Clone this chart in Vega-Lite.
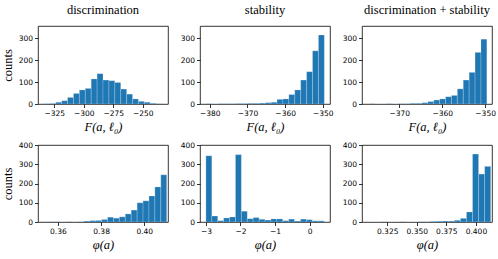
{
  "$schema": "https://vega.github.io/schema/vega-lite/v6.json",
  "padding": {"left": 0, "top": 3, "right": 2, "bottom": 2},
  "background": "white",
  "datasets": {
    "h": [
      {"p":1,"a":-333.7,"b":-328.7,"c":1},{"p":1,"a":-328.7,"b":-323.7,"c":2},{"p":1,"a":-323.7,"b":-318.7,"c":8},{"p":1,"a":-318.7,"b":-313.7,"c":15},{"p":1,"a":-313.7,"b":-308.7,"c":30},{"p":1,"a":-308.7,"b":-303.7,"c":48},{"p":1,"a":-303.7,"b":-298.7,"c":64},{"p":1,"a":-298.7,"b":-293.7,"c":71},{"p":1,"a":-293.7,"b":-288.7,"c":114},{"p":1,"a":-288.7,"b":-283.7,"c":138},{"p":1,"a":-283.7,"b":-278.7,"c":109},{"p":1,"a":-278.7,"b":-273.7,"c":106},{"p":1,"a":-273.7,"b":-268.7,"c":98},{"p":1,"a":-268.7,"b":-263.7,"c":68},{"p":1,"a":-263.7,"b":-258.7,"c":45},{"p":1,"a":-258.7,"b":-253.7,"c":23},{"p":1,"a":-253.7,"b":-248.7,"c":12},{"p":1,"a":-248.7,"b":-243.7,"c":8},{"p":1,"a":-243.7,"b":-238.7,"c":3},{"p":1,"a":-238.7,"b":-233.7,"c":1},
      {"p":2,"a":-381.0,"b":-379.43,"c":1},{"p":2,"a":-379.43,"b":-377.86,"c":0},{"p":2,"a":-377.86,"b":-376.29,"c":1},{"p":2,"a":-376.29,"b":-374.72,"c":1},{"p":2,"a":-374.72,"b":-373.15,"c":1},{"p":2,"a":-373.15,"b":-371.58,"c":2},{"p":2,"a":-371.58,"b":-370.01,"c":2},{"p":2,"a":-370.01,"b":-368.44,"c":3},{"p":2,"a":-368.44,"b":-366.87,"c":3},{"p":2,"a":-366.87,"b":-365.3,"c":4},{"p":2,"a":-365.3,"b":-363.73,"c":6},{"p":2,"a":-363.73,"b":-362.16,"c":8},{"p":2,"a":-362.16,"b":-360.59,"c":21},{"p":2,"a":-360.59,"b":-359.02,"c":23},{"p":2,"a":-359.02,"b":-357.45,"c":43},{"p":2,"a":-357.45,"b":-355.88,"c":64},{"p":2,"a":-355.88,"b":-354.31,"c":109},{"p":2,"a":-354.31,"b":-352.74,"c":147},{"p":2,"a":-352.74,"b":-351.17,"c":242},{"p":2,"a":-351.17,"b":-349.6,"c":314},
      {"p":3,"a":-377.1,"b":-375.725,"c":1},{"p":3,"a":-375.725,"b":-374.35,"c":0},{"p":3,"a":-374.35,"b":-372.975,"c":0},{"p":3,"a":-372.975,"b":-371.6,"c":1},{"p":3,"a":-371.6,"b":-370.225,"c":0},{"p":3,"a":-370.225,"b":-368.85,"c":1},{"p":3,"a":-368.85,"b":-367.475,"c":1},{"p":3,"a":-367.475,"b":-366.1,"c":3},{"p":3,"a":-366.1,"b":-364.725,"c":3},{"p":3,"a":-364.725,"b":-363.35,"c":6},{"p":3,"a":-363.35,"b":-361.975,"c":11},{"p":3,"a":-361.975,"b":-360.6,"c":18},{"p":3,"a":-360.6,"b":-359.225,"c":23},{"p":3,"a":-359.225,"b":-357.85,"c":33},{"p":3,"a":-357.85,"b":-356.475,"c":39},{"p":3,"a":-356.475,"b":-355.1,"c":69},{"p":3,"a":-355.1,"b":-353.725,"c":109},{"p":3,"a":-353.725,"b":-352.35,"c":144},{"p":3,"a":-352.35,"b":-350.975,"c":235},{"p":3,"a":-350.975,"b":-349.6,"c":295},
      {"p":4,"a":0.3556,"b":0.35834,"c":1},{"p":4,"a":0.35834,"b":0.36108,"c":1},{"p":4,"a":0.36108,"b":0.36382,"c":0},{"p":4,"a":0.36382,"b":0.36656,"c":1},{"p":4,"a":0.36656,"b":0.3693,"c":0},{"p":4,"a":0.3693,"b":0.37204,"c":1},{"p":4,"a":0.37204,"b":0.37478,"c":5},{"p":4,"a":0.37478,"b":0.37752,"c":7},{"p":4,"a":0.37752,"b":0.38026,"c":8},{"p":4,"a":0.38026,"b":0.383,"c":13},{"p":4,"a":0.383,"b":0.38574,"c":25},{"p":4,"a":0.38574,"b":0.38848,"c":20},{"p":4,"a":0.38848,"b":0.39122,"c":27},{"p":4,"a":0.39122,"b":0.39396,"c":42},{"p":4,"a":0.39396,"b":0.3967,"c":62},{"p":4,"a":0.3967,"b":0.39944,"c":100},{"p":4,"a":0.39944,"b":0.40218,"c":110},{"p":4,"a":0.40218,"b":0.40492,"c":135},{"p":4,"a":0.40492,"b":0.40766,"c":182},{"p":4,"a":0.40766,"b":0.4104,"c":245},
      {"p":5,"a":-3.0,"b":-2.829,"c":344},{"p":5,"a":-2.829,"b":-2.658,"c":31},{"p":5,"a":-2.658,"b":-2.487,"c":7},{"p":5,"a":-2.487,"b":-2.316,"c":21},{"p":5,"a":-2.316,"b":-2.145,"c":26},{"p":5,"a":-2.145,"b":-1.974,"c":350},{"p":5,"a":-1.974,"b":-1.803,"c":56},{"p":5,"a":-1.803,"b":-1.632,"c":17},{"p":5,"a":-1.632,"b":-1.461,"c":23},{"p":5,"a":-1.461,"b":-1.29,"c":14},{"p":5,"a":-1.29,"b":-1.119,"c":10},{"p":5,"a":-1.119,"b":-0.948,"c":16},{"p":5,"a":-0.948,"b":-0.777,"c":16},{"p":5,"a":-0.777,"b":-0.606,"c":7},{"p":5,"a":-0.606,"b":-0.435,"c":15},{"p":5,"a":-0.435,"b":-0.264,"c":5},{"p":5,"a":-0.264,"b":-0.093,"c":15},{"p":5,"a":-0.093,"b":0.078,"c":12},{"p":5,"a":0.078,"b":0.249,"c":6},{"p":5,"a":0.249,"b":0.42,"c":6},
      {"p":6,"a":0.3101,"b":0.31522,"c":0},{"p":6,"a":0.31522,"b":0.32034,"c":0},{"p":6,"a":0.32034,"b":0.32546,"c":1},{"p":6,"a":0.32546,"b":0.33058,"c":0},{"p":6,"a":0.33058,"b":0.3357,"c":0},{"p":6,"a":0.3357,"b":0.34082,"c":1},{"p":6,"a":0.34082,"b":0.34594,"c":0},{"p":6,"a":0.34594,"b":0.35106,"c":0},{"p":6,"a":0.35106,"b":0.35618,"c":1},{"p":6,"a":0.35618,"b":0.3613,"c":1},{"p":6,"a":0.3613,"b":0.36642,"c":3},{"p":6,"a":0.36642,"b":0.37154,"c":4},{"p":6,"a":0.37154,"b":0.37666,"c":5},{"p":6,"a":0.37666,"b":0.38178,"c":5},{"p":6,"a":0.38178,"b":0.3869,"c":9},{"p":6,"a":0.3869,"b":0.39202,"c":19},{"p":6,"a":0.39202,"b":0.39714,"c":52},{"p":6,"a":0.39714,"b":0.40226,"c":353},{"p":6,"a":0.40226,"b":0.40738,"c":249},{"p":6,"a":0.40738,"b":0.4125,"c":289}
    ]
  },
  "vconcat": [
    {
      "hconcat": [
        {
          "width": 130, "height": 78,
          "title": "discrimination",
          "data": {"name": "h"},
          "transform": [{"filter": "datum.p == 1"}],
          "mark": {"type": "rect", "color": "#1f77b4", "stroke": "#ffffff", "strokeWidth": 0.3, "strokeOpacity": 0.7, "clip": true},
          "encoding": {
            "x": {"field": "a", "type": "quantitative", "scale": {"domain": [-338.7, -228.7], "nice": false, "zero": false}, "axis": {"values": [-325, -300, -275, -250], "title": "F(a, ℓ₀)"}},
            "x2": {"field": "b"},
            "y": {"field": "c", "type": "quantitative", "scale": {"domain": [0, 355], "nice": false}, "axis": {"values": [0, 100, 200, 300], "title": "counts"}},
            "y2": {"datum": 0}
          }
        },
        {
          "width": 130, "height": 78,
          "title": "stability",
          "data": {"name": "h"},
          "transform": [{"filter": "datum.p == 2"}],
          "mark": {"type": "rect", "color": "#1f77b4", "stroke": "#ffffff", "strokeWidth": 0.3, "strokeOpacity": 0.7, "clip": true},
          "encoding": {
            "x": {"field": "a", "type": "quantitative", "scale": {"domain": [-382.6, -348.1], "nice": false, "zero": false}, "axis": {"values": [-380, -370, -360, -350], "title": "F(a, ℓ₀)"}},
            "x2": {"field": "b"},
            "y": {"field": "c", "type": "quantitative", "scale": {"domain": [0, 355], "nice": false}, "axis": {"values": [0, 100, 200, 300], "title": null}},
            "y2": {"datum": 0}
          }
        },
        {
          "width": 130, "height": 78,
          "title": "discrimination + stability",
          "data": {"name": "h"},
          "transform": [{"filter": "datum.p == 3"}],
          "mark": {"type": "rect", "color": "#1f77b4", "stroke": "#ffffff", "strokeWidth": 0.3, "strokeOpacity": 0.7, "clip": true},
          "encoding": {
            "x": {"field": "a", "type": "quantitative", "scale": {"domain": [-378.7, -348.4], "nice": false, "zero": false}, "axis": {"values": [-370, -360, -350], "title": "F(a, ℓ₀)"}},
            "x2": {"field": "b"},
            "y": {"field": "c", "type": "quantitative", "scale": {"domain": [0, 355], "nice": false}, "axis": {"values": [0, 100, 200, 300], "title": null}},
            "y2": {"datum": 0}
          }
        }
      ],
      "spacing": 32,
      "bounds": "flush"
    },
    {
      "hconcat": [
        {
          "width": 130, "height": 77,
          "data": {"name": "h"},
          "transform": [{"filter": "datum.p == 4"}],
          "mark": {"type": "rect", "color": "#1f77b4", "stroke": "#ffffff", "strokeWidth": 0.3, "strokeOpacity": 0.7, "clip": true},
          "encoding": {
            "x": {"field": "a", "type": "quantitative", "scale": {"domain": [0.3508, 0.411], "nice": false, "zero": false}, "axis": {"values": [0.36, 0.38, 0.40], "format": ".2f", "title": "φ(a)"}},
            "x2": {"field": "b"},
            "y": {"field": "c", "type": "quantitative", "scale": {"domain": [0, 400], "nice": false}, "axis": {"values": [0, 100, 200, 300, 400], "title": "counts"}},
            "y2": {"datum": 0}
          }
        },
        {
          "width": 130, "height": 77,
          "data": {"name": "h"},
          "transform": [{"filter": "datum.p == 5"}],
          "mark": {"type": "rect", "color": "#1f77b4", "stroke": "#ffffff", "strokeWidth": 0.3, "strokeOpacity": 0.7, "clip": true},
          "encoding": {
            "x": {"field": "a", "type": "quantitative", "scale": {"domain": [-3.171, 0.591], "nice": false, "zero": false}, "axis": {"values": [-3, -2, -1, 0], "format": "d", "title": "φ(a)"}},
            "x2": {"field": "b"},
            "y": {"field": "c", "type": "quantitative", "scale": {"domain": [0, 400], "nice": false}, "axis": {"values": [0, 100, 200, 300, 400], "title": null}},
            "y2": {"datum": 0}
          }
        },
        {
          "width": 130, "height": 77,
          "data": {"name": "h"},
          "transform": [{"filter": "datum.p == 6"}],
          "mark": {"type": "rect", "color": "#1f77b4", "stroke": "#ffffff", "strokeWidth": 0.3, "strokeOpacity": 0.7, "clip": true},
          "encoding": {
            "x": {"field": "a", "type": "quantitative", "scale": {"domain": [0.3037, 0.4136], "nice": false, "zero": false}, "axis": {"values": [0.325, 0.35, 0.375, 0.4], "format": ".3f", "title": "φ(a)"}},
            "x2": {"field": "b"},
            "y": {"field": "c", "type": "quantitative", "scale": {"domain": [0, 400], "nice": false}, "axis": {"values": [0, 100, 200, 300, 400], "title": null}},
            "y2": {"datum": 0}
          }
        }
      ],
      "spacing": 32,
      "bounds": "flush"
    }
  ],
  "spacing": 7,
  "config": {
    "view": {"stroke": "black", "strokeWidth": 0.8},
    "axis": {
      "grid": false,
      "domain": false,
      "ticks": true,
      "tickColor": "black",
      "tickSize": 3.5,
      "tickWidth": 0.8,
      "labelFont": "DejaVu Sans",
      "labelFontSize": 7.5,
      "labelColor": "black",
      "labelPadding": 2,
      "titleFont": "Liberation Serif",
      "titleFontSize": 12.5,
      "titleFontWeight": "normal",
      "titleFontStyle": "italic",
      "titleColor": "black",
      "titlePadding": 3
    },
    "axisY": {"titleFontStyle": "normal", "titlePadding": 4},
    "title": {"font": "Liberation Serif", "fontSize": 12.5, "fontWeight": "normal", "color": "black", "offset": 10}
  }
}
